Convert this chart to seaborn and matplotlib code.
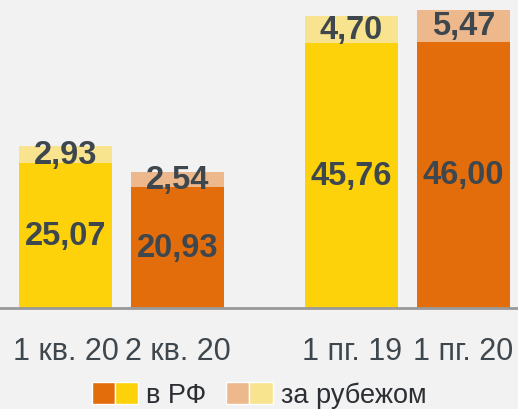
import matplotlib
matplotlib.use("Agg")
import matplotlib.pyplot as plt
import seaborn as sns
import pandas as pd
from matplotlib.patches import Patch
from matplotlib.legend_handler import HandlerTuple

# данные
periods = ["1 кв. 20", "2 кв. 20", "1 пг. 19", "1 пг. 20"]
years = ["2019", "2020", "2019", "2020"]
rf = [25.07, 20.93, 45.76, 46.00]
abroad = [2.93, 2.54, 4.70, 5.47]

# оформление
bg = "#F2F2F2"
txt = "#3E474D"
dark = {"2019": "#FDD20A", "2020": "#E36C0B"}
light = {"2019": "#F8E38F", "2020": "#EDB98C"}
x_pos = [0, 1, 2.554, 3.554]

sns.set_style("white")
plt.rcParams["font.family"] = ["Liberation Sans", "DejaVu Sans"]

df = pd.DataFrame({"x": x_pos, "period": periods, "year": years,
                   "rf": rf, "abroad": abroad})
df["total"] = df["rf"] + df["abroad"]

fig = plt.figure(figsize=(5.18, 4.10), dpi=100, facecolor=bg)
ax = fig.add_axes([0, 101 / 410, 1, 309 / 410])
ax.set_facecolor(bg)

sns.barplot(data=df, x="x", y="total", hue="year", palette=light,
            native_scale=True, width=0.83, dodge=False, legend=False,
            saturation=1, linewidth=0, ax=ax)
sns.barplot(data=df, x="x", y="rf", hue="year", palette=dark,
            native_scale=True, width=0.83, dodge=False, legend=False,
            saturation=1, linewidth=0, ax=ax)

ax.set_xlim(-0.585, 4.04)
ax.set_ylim(0, 53.4)

for _, r in df.iterrows():
    ax.text(r["x"], r["rf"] / 2, f"{r['rf']:.2f}".replace(".", ","),
            ha="center", va="center", fontsize=23.5, fontweight="bold", color=txt)
    ax.text(r["x"], r["rf"] + r["abroad"] / 2, f"{r['abroad']:.2f}".replace(".", ","),
            ha="center", va="center", fontsize=23.5, fontweight="bold", color=txt)

ax.set_xticks(x_pos, periods)
ax.set_yticks([])
ax.tick_params(axis="x", length=0, pad=20, labelsize=22, labelcolor=txt)
ax.set_xlabel("")
ax.set_ylabel("")
for s in ["top", "left", "right"]:
    ax.spines[s].set_visible(False)
ax.spines["bottom"].set_color("#999999")
ax.spines["bottom"].set_linewidth(2)

handles = [
    (Patch(facecolor=dark["2020"]), Patch(facecolor=dark["2019"])),
    (Patch(facecolor=light["2020"]), Patch(facecolor=light["2019"])),
]
fig.legend(handles, ["в РФ", "за рубежом"], ncol=2, loc="lower center",
           bbox_to_anchor=(0.5, -0.025), frameon=False, fontsize=19.5,
           handler_map={tuple: HandlerTuple(ndivide=None, pad=0)},
           handlelength=1.7, handleheight=0.85, handletextpad=0.3,
           columnspacing=0.75, labelcolor="#2B2F33", borderaxespad=0)

fig.savefig("out.png", dpi=100, facecolor=bg)
